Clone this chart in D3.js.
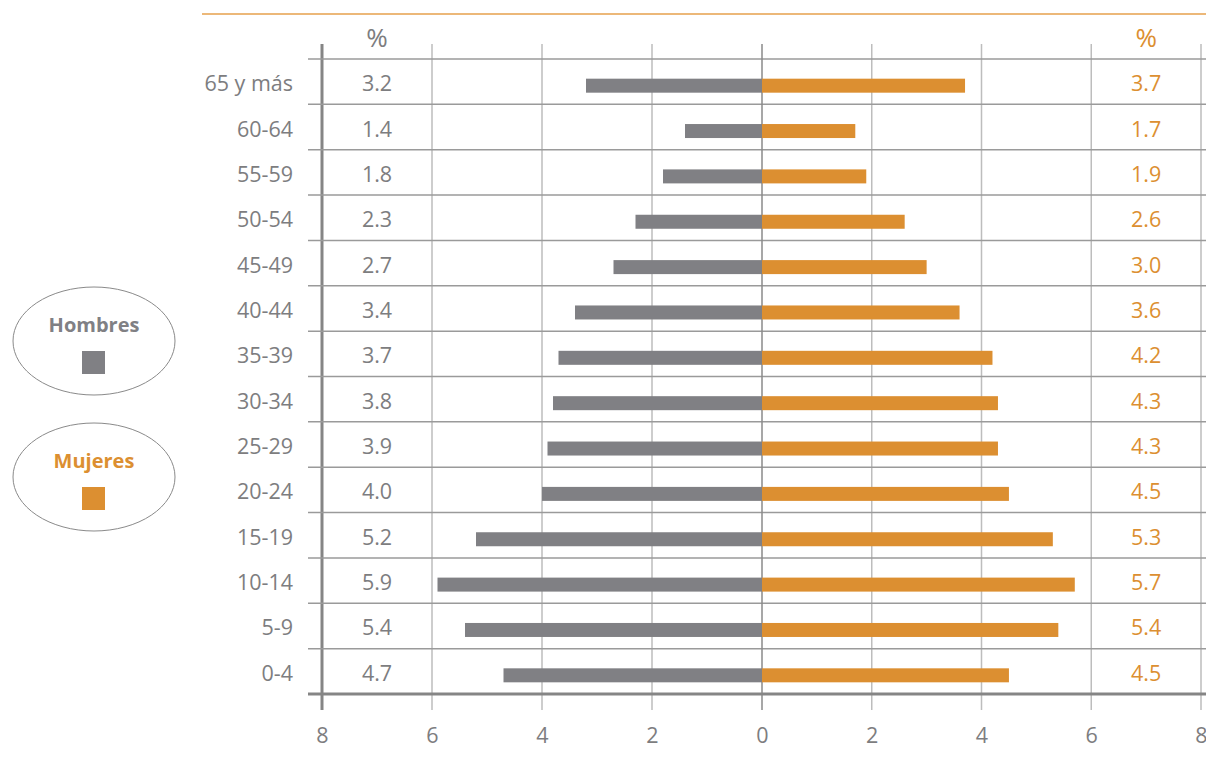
<!DOCTYPE html>
<html>
<head>
<meta charset="utf-8">
<script src="https://cdn.jsdelivr.net/npm/d3@7"></script>
<style>
  html, body { margin: 0; padding: 0; background: #fff; }
  svg { display: block; font-family: "Open Sans", "Noto Sans", sans-serif; }
</style>
</head>
<body>
<svg id="chart" width="1206" height="769"></svg>
<script>
// Age groups, top to bottom
const ageGroups = ["65 y más", "60-64", "55-59", "50-54", "45-49", "40-44", "35-39",
                   "30-34", "25-29", "20-24", "15-19", "10-14", "5-9", "0-4"];
// Share of population (%) by sex
const hombres = [3.2, 1.4, 1.8, 2.3, 2.7, 3.4, 3.7, 3.8, 3.9, 4.0, 5.2, 5.9, 5.4, 4.7];
const mujeres = [3.7, 1.7, 1.9, 2.6, 3.0, 3.6, 4.2, 4.3, 4.3, 4.5, 5.3, 5.7, 5.4, 4.5];
const axisTicks = [0, 2, 4, 6, 8];
const seriesNames = ["Hombres", "Mujeres"];

const GRAY = "#808084";
const ORANGE = "#dc8f31";
const TEXT = "#7d7d80";
const FS = 21.5;

const svg = d3.select("#chart");

const xLeft = d3.scaleLinear().domain([8, 0]).range([322, 762]);
const xRight = d3.scaleLinear().domain([0, 8]).range([762, 1201]);
const y = d3.scaleBand().domain(ageGroups).range([59, 694]);

// top rule
svg.append("line").attr("x1", 202).attr("x2", 1206).attr("y1", 14).attr("y2", 14)
  .attr("stroke", "#e6a04c").attr("stroke-width", 1.5);

// vertical grid lines (every 2 units, both halves)
const gridG = svg.append("g");
const gridXs = axisTicks.slice(1).map(v => xLeft(v)).concat(axisTicks.slice(1).map(v => xRight(v)));
gridG.selectAll("line.v").data(gridXs).join("line")
  .attr("x1", d => d).attr("x2", d => d).attr("y1", 44).attr("y2", 710)
  .attr("stroke", "#bdbdbd").attr("stroke-width", 1.5);
// left axis (thicker)
gridG.append("line").attr("x1", xLeft(8)).attr("x2", xLeft(8)).attr("y1", 44).attr("y2", 710)
  .attr("stroke", "#858585").attr("stroke-width", 3);

// horizontal row separators
const rowEdges = ageGroups.map(d => y(d));
gridG.selectAll("line.h").data(rowEdges).join("line")
  .attr("x1", 308).attr("x2", 1206).attr("y1", d => d).attr("y2", d => d)
  .attr("stroke", "#9a9a9a").attr("stroke-width", 1.5);

// zero line
gridG.append("line").attr("x1", xLeft(0)).attr("x2", xLeft(0)).attr("y1", 44).attr("y2", 710)
  .attr("stroke", "#8a8a8a").attr("stroke-width", 1.5);

// bars
const barH = 14;
const barOff = 4;
svg.append("g").selectAll("rect").data(ageGroups).join("rect")
  .attr("x", (d, i) => xLeft(hombres[i]))
  .attr("width", (d, i) => xLeft(0) - xLeft(hombres[i]))
  .attr("y", d => y(d) + y.bandwidth() / 2 - barH / 2 + barOff)
  .attr("height", barH)
  .attr("fill", GRAY);
svg.append("g").selectAll("rect").data(ageGroups).join("rect")
  .attr("x", xRight(0))
  .attr("width", (d, i) => xRight(mujeres[i]) - xRight(0))
  .attr("y", d => y(d) + y.bandwidth() / 2 - barH / 2 + barOff)
  .attr("height", barH)
  .attr("fill", ORANGE);

// bottom axis line
svg.append("line").attr("x1", 308).attr("x2", 1206).attr("y1", 694).attr("y2", 694)
  .attr("stroke", "#858585").attr("stroke-width", 3);

// bottom tick labels
const axisStyle = g => {
  g.select(".domain").remove();
  g.selectAll(".tick line").remove();
  g.selectAll(".tick text").attr("fill", TEXT).attr("font-size", FS)
    .attr("font-family", "\"Open Sans\", \"Noto Sans\", sans-serif").attr("dy", "0.35em");
};
svg.append("g").attr("transform", "translate(0,735)")
  .call(d3.axisBottom(xLeft).tickValues(axisTicks.slice(1)).tickFormat(d3.format("d")).tickSize(0).tickPadding(0))
  .call(axisStyle);
svg.append("g").attr("transform", "translate(0,735)")
  .call(d3.axisBottom(xRight).tickValues(axisTicks).tickFormat(d3.format("d")).tickSize(0).tickPadding(0))
  .call(axisStyle);

// category labels
const rowText = d => y(d) + y.bandwidth() / 2 + 9.5;
svg.append("g").selectAll("text").data(ageGroups).join("text")
  .attr("x", 293).attr("y", rowText)
  .attr("text-anchor", "end").attr("font-size", FS).attr("fill", TEXT)
  .text(d => d);

// value columns
const fmt = d3.format(".1f");
const maleCol = (xLeft(8) + xLeft(6)) / 2;
const femaleCol = (xRight(6) + xRight(8)) / 2;
svg.append("g").selectAll("text").data(hombres).join("text")
  .attr("x", maleCol).attr("y", (d, i) => rowText(ageGroups[i]))
  .attr("text-anchor", "middle").attr("font-size", FS).attr("fill", TEXT)
  .text(d => fmt(d));
svg.append("g").selectAll("text").data(mujeres).join("text")
  .attr("x", femaleCol).attr("y", (d, i) => rowText(ageGroups[i]))
  .attr("text-anchor", "middle").attr("font-size", FS).attr("fill", ORANGE)
  .text(d => fmt(d));

// column headers
svg.append("text").attr("x", maleCol).attr("y", 47).attr("text-anchor", "middle")
  .attr("font-size", 26).attr("fill", TEXT).text("%");
svg.append("text").attr("x", femaleCol).attr("y", 47).attr("text-anchor", "middle")
  .attr("font-size", 26).attr("fill", ORANGE).text("%");

// legend
const legend = [
  { name: seriesNames[0], color: GRAY, cy: 341 },
  { name: seriesNames[1], color: ORANGE, cy: 477 }
];
const lg = svg.append("g").selectAll("g").data(legend).join("g");
lg.append("ellipse").attr("cx", 94).attr("cy", d => d.cy).attr("rx", 81).attr("ry", 54)
  .attr("fill", "none").attr("stroke", "#8a8a8a").attr("stroke-width", 1);
lg.append("text").attr("x", 94).attr("y", d => d.cy - 9).attr("text-anchor", "middle")
  .attr("font-size", 20).attr("font-weight", "bold").attr("fill", d => d.color)
  .text(d => d.name);
lg.append("rect").attr("x", 82).attr("y", d => d.cy + 10).attr("width", 23).attr("height", 23)
  .attr("fill", d => d.color);
</script>
</body>
</html>
